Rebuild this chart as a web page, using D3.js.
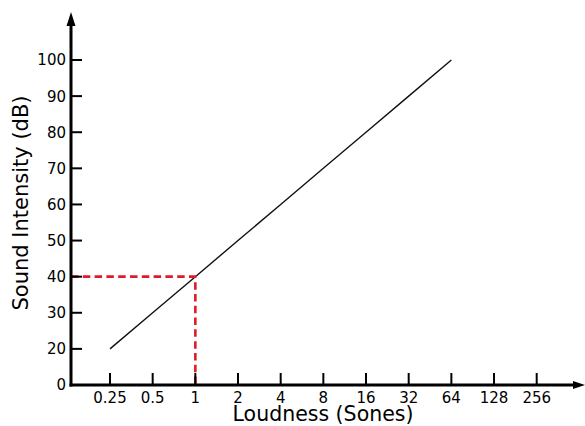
<!DOCTYPE html>
<html><head><meta charset="utf-8">
<script src="https://cdn.jsdelivr.net/npm/d3@7"></script>
<style>body{margin:0;background:#fff}svg{display:block}</style>
</head><body>
<svg id="c" width="585" height="426"></svg>
<script>
const loudness = [0.25, 0.5, 1, 2, 4, 8, 16, 32, 64];
const intensity = [20, 30, 40, 50, 60, 70, 80, 90, 100];
const xTicks = [0.25, 0.5, 1, 2, 4, 8, 16, 32, 64, 128, 256];
const xTickLabels = ["0.25", "0.5", "1", "2", "4", "8", "16", "32", "64", "128", "256"];
const yTicks = [20, 30, 40, 50, 60, 70, 80, 90, 100];
const yOriginLabel = "0";
const refPoint = {x: 1, y: 40};

const svg = d3.select("#c");
const font = "'DejaVu Sans', Verdana, sans-serif";
const x = d3.scaleLog().base(2).domain([0.25, 256]).range([110, 536.7]);
const y = d3.scaleLinear().domain([10, 100]).range([385, 60]);
const x0 = 71, y0 = y(10);

// data line
svg.append("path")
  .datum(loudness.map((d, i) => [d, intensity[i]]))
  .attr("fill", "none").attr("stroke", "#111").attr("stroke-width", 1.4)
  .attr("d", d3.line().x(d => x(d[0])).y(d => y(d[1])));

// red dashed reference
svg.append("path")
  .attr("fill", "none").attr("stroke", "#dc1c28").attr("stroke-width", 2.6)
  .attr("stroke-dasharray", "7.5,4.3")
  .attr("d", `M${x0},${y(refPoint.y)}H${x(refPoint.x)}V${y0}`);

// axes lines
svg.append("line").attr("x1", x0).attr("x2", x0).attr("y1", y0 + 1.5).attr("y2", 24)
  .attr("stroke", "#000").attr("stroke-width", 3);
svg.append("path").attr("d", `M${x0},12L${x0 - 4.5},26L${x0 + 4.5},26Z`).attr("fill", "#000");
svg.append("line").attr("x1", x0 - 1.5).attr("x2", 575).attr("y1", y0).attr("y2", y0)
  .attr("stroke", "#000").attr("stroke-width", 3);
svg.append("path").attr("d", `M585,${y0}L573,${y0 - 4}L573,${y0 + 4}Z`).attr("fill", "#000");

// y ticks
const yg = svg.append("g");
yTicks.forEach(v => {
  yg.append("line").attr("x1", x0).attr("x2", x0 + 11).attr("y1", y(v)).attr("y2", y(v))
    .attr("stroke", "#000").attr("stroke-width", 2);
  yg.append("text").attr("x", 66).attr("y", y(v)).attr("dy", "0.36em")
    .attr("text-anchor", "end").attr("font-family", font).attr("font-size", 15).text(v);
});
yg.append("text").attr("x", 66).attr("y", y0).attr("dy", "0.36em")
  .attr("text-anchor", "end").attr("font-family", font).attr("font-size", 15).text(yOriginLabel);

// x ticks
const xg = svg.append("g");
xTicks.forEach((v, i) => {
  xg.append("line").attr("x1", x(v)).attr("x2", x(v)).attr("y1", y0).attr("y2", y0 - 12)
    .attr("stroke", "#000").attr("stroke-width", 2);
  xg.append("text").attr("x", x(v)).attr("y", 403)
    .attr("text-anchor", "middle").attr("font-family", font).attr("font-size", 15).text(xTickLabels[i]);
});

// axis titles
svg.append("text").attr("x", 323).attr("y", 421).attr("text-anchor", "middle")
  .attr("font-family", font).attr("font-size", 20.5).text("Loudness (Sones)");
svg.append("text").attr("transform", "translate(28,203) rotate(-90)").attr("text-anchor", "middle")
  .attr("font-family", font).attr("font-size", 21).text("Sound Intensity (dB)");
</script>
</body></html>
